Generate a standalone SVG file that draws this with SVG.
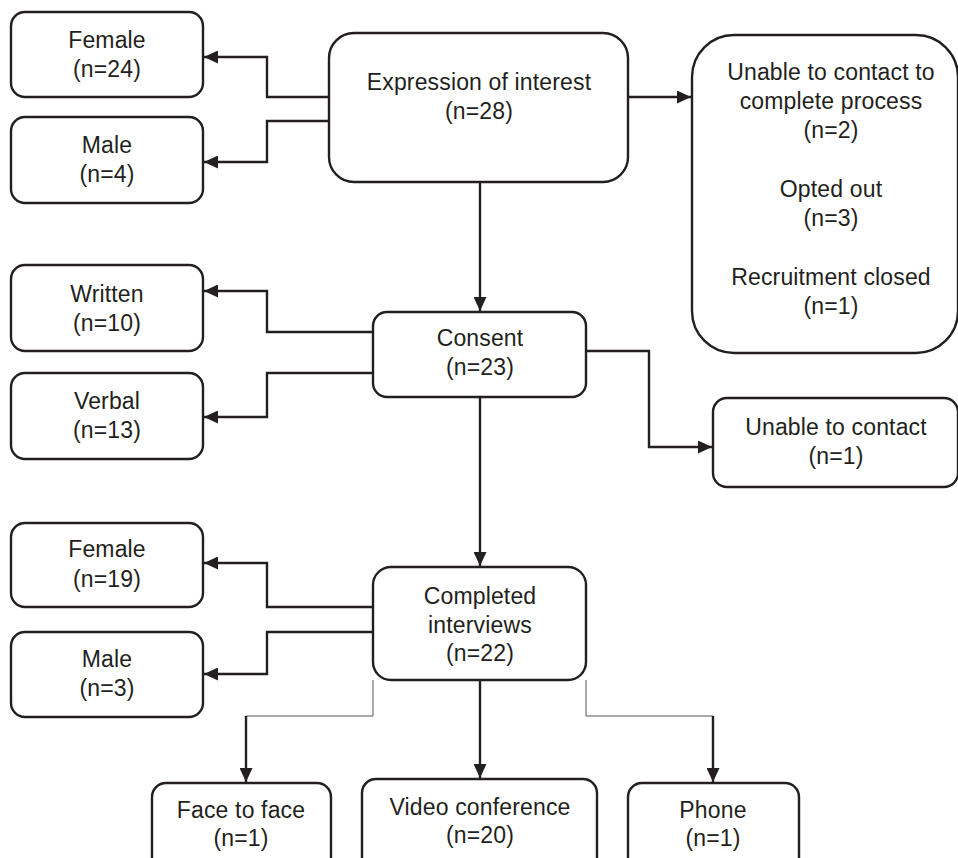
<svg xmlns="http://www.w3.org/2000/svg" width="958" height="858" viewBox="0 0 958 858">
<style>
.box{fill:#fff;stroke:#231f20;stroke-width:2.4}
.t{font-family:"Liberation Sans",Arial,Helvetica,sans-serif;font-size:23px;fill:#231f20;text-anchor:middle;letter-spacing:0.15px}
.c{fill:none;stroke:#231f20;stroke-width:2.4}
.thin{fill:none;stroke:#555;stroke-width:1}
</style>
<defs>
<marker id="ah" markerUnits="userSpaceOnUse" markerWidth="14" markerHeight="13" refX="14" refY="6.5" orient="auto">
<path d="M0,0 L14,6.5 L0,13 z" fill="#231f20"/>
</marker>
</defs>
<rect width="958" height="858" fill="#fff"/>
<g id="connectors">
<path class="c" d="M329,97 H267 V57 H204" marker-end="url(#ah)"/>
<path class="c" d="M329,121 H267 V162 H204" marker-end="url(#ah)"/>
<path class="c" d="M628,97 H691" marker-end="url(#ah)"/>
<path class="c" d="M480,182 V311" marker-end="url(#ah)"/>
<path class="c" d="M373,332 H267 V291 H204" marker-end="url(#ah)"/>
<path class="c" d="M373,373 H267 V417 H204" marker-end="url(#ah)"/>
<path class="c" d="M586,351 H649 V447 H712" marker-end="url(#ah)"/>
<path class="c" d="M480,397 V566" marker-end="url(#ah)"/>
<path class="c" d="M373,607 H267 V563 H204" marker-end="url(#ah)"/>
<path class="c" d="M373,632 H267 V674 H204" marker-end="url(#ah)"/>
<path class="thin" d="M373,680 V716 H246"/>
<path class="c" d="M246,716 V782" marker-end="url(#ah)"/>
<path class="c" d="M480,680 V778" marker-end="url(#ah)"/>
<path class="thin" d="M586,680 V716 H713"/>
<path class="c" d="M713,716 V782" marker-end="url(#ah)"/>
</g>
<g id="female1"><rect class="box" x="11" y="12" width="192" height="85" rx="14"/><text class="t" x="107" y="48">Female</text><text class="t" x="107" y="77">(n=24)</text></g>
<g id="male1"><rect class="box" x="11" y="117" width="192" height="86" rx="14"/><text class="t" x="107" y="153">Male</text><text class="t" x="107" y="182">(n=4)</text></g>
<g id="expression"><rect class="box" x="329" y="33" width="299" height="149" rx="25"/><text class="t" x="479" y="90">Expression of interest</text><text class="t" x="479" y="119">(n=28)</text></g>
<g id="excluded"><rect class="box" x="692" y="35" width="266" height="318" rx="42"/>
<text class="t" x="831" y="80">Unable to contact to</text><text class="t" x="831" y="109">complete process</text><text class="t" x="831" y="138">(n=2)</text>
<text class="t" x="831" y="197">Opted out</text><text class="t" x="831" y="226">(n=3)</text>
<text class="t" x="831" y="285">Recruitment closed</text><text class="t" x="831" y="314">(n=1)</text></g>
<g id="written"><rect class="box" x="11" y="265" width="192" height="86" rx="14"/><text class="t" x="107" y="302">Written</text><text class="t" x="107" y="331">(n=10)</text></g>
<g id="verbal"><rect class="box" x="11" y="373" width="192" height="86" rx="14"/><text class="t" x="107" y="409">Verbal</text><text class="t" x="107" y="438">(n=13)</text></g>
<g id="consent"><rect class="box" x="373" y="312" width="213" height="85" rx="14"/><text class="t" x="480" y="346">Consent</text><text class="t" x="480" y="375">(n=23)</text></g>
<g id="unable"><rect class="box" x="713" y="398" width="245" height="89" rx="14"/><text class="t" x="836" y="435">Unable to contact</text><text class="t" x="836" y="464">(n=1)</text></g>
<g id="female2"><rect class="box" x="11" y="523" width="192" height="84" rx="14"/><text class="t" x="107" y="557">Female</text><text class="t" x="107" y="587">(n=19)</text></g>
<g id="male2"><rect class="box" x="11" y="632" width="192" height="85" rx="14"/><text class="t" x="107" y="667">Male</text><text class="t" x="107" y="696">(n=3)</text></g>
<g id="completed"><rect class="box" x="373" y="567" width="213" height="113" rx="18"/><text class="t" x="480" y="604">Completed</text><text class="t" x="480" y="633">interviews</text><text class="t" x="480" y="661">(n=22)</text></g>
<g id="face"><rect class="box" x="152" y="783" width="179" height="90" rx="14"/><text class="t" x="241" y="818">Face to face</text><text class="t" x="241" y="846">(n=1)</text></g>
<g id="video"><rect class="box" x="362" y="779" width="235" height="94" rx="14"/><text class="t" x="480" y="815">Video conference</text><text class="t" x="480" y="843">(n=20)</text></g>
<g id="phone"><rect class="box" x="628" y="783" width="171" height="90" rx="14"/><text class="t" x="713" y="818">Phone</text><text class="t" x="713" y="846">(n=1)</text></g>
</svg>
